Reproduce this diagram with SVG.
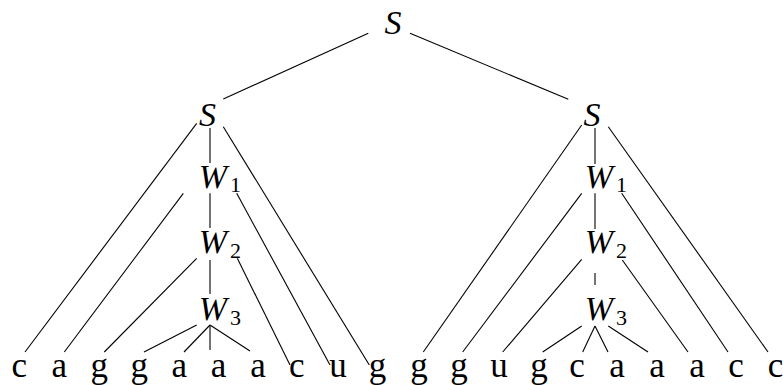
<svg xmlns="http://www.w3.org/2000/svg" width="783" height="385" viewBox="0 0 783 385">
<style>
  .t { font-family: "Liberation Serif", "DejaVu Serif", serif; font-size: 35px; fill: #000; }
  .nt { font-family: "Liberation Serif", "DejaVu Serif", serif; font-size: 34px; font-style: italic; fill: #000; }
  .sub { font-family: "Liberation Serif", "DejaVu Serif", serif; font-size: 22px; font-style: normal; fill: #000; }
  .e { stroke: #000; stroke-width: 1.1; fill: none; stroke-linecap: butt; }
</style>
<rect width="783" height="385" fill="#fff"/>
<g id="connectors" class="e">
  <line x1="368.3" y1="33.3" x2="223.3" y2="99"/>
  <line x1="410" y1="33.3" x2="568.3" y2="99.3"/>
  <line x1="196.7" y1="123.3" x2="25" y2="352"/>
  <line x1="210" y1="128" x2="210" y2="163"/>
  <line x1="223.3" y1="126.7" x2="369.3" y2="365"/>
  <line x1="183.3" y1="193.3" x2="64.3" y2="352"/>
  <line x1="210" y1="193.3" x2="210" y2="228"/>
  <line x1="236.7" y1="193.3" x2="330" y2="365"/>
  <line x1="196.7" y1="258.3" x2="104.3" y2="352"/>
  <line x1="210" y1="260" x2="210" y2="294"/>
  <line x1="237.3" y1="258.3" x2="290" y2="365"/>
  <line x1="196.7" y1="325" x2="144" y2="352"/>
  <line x1="210" y1="325" x2="184" y2="352"/>
  <line x1="210" y1="325" x2="210" y2="350"/>
  <line x1="210" y1="325" x2="250" y2="351"/>
  <line x1="581.7" y1="125" x2="423.3" y2="352"/>
  <line x1="595" y1="128" x2="595" y2="164"/>
  <line x1="608.3" y1="126.7" x2="768" y2="352"/>
  <line x1="581.7" y1="193.3" x2="462.7" y2="352"/>
  <line x1="595" y1="193.3" x2="595" y2="229"/>
  <line x1="621.7" y1="193.3" x2="728" y2="352"/>
  <line x1="581.7" y1="259.3" x2="502.7" y2="352"/>
  <line x1="595" y1="273" x2="595" y2="285"/>
  <line x1="622.3" y1="260" x2="688" y2="352"/>
  <line x1="581.7" y1="326" x2="542.7" y2="352"/>
  <line x1="595" y1="326" x2="582.7" y2="352"/>
  <line x1="595" y1="326" x2="608" y2="352"/>
  <line x1="608.3" y1="326" x2="648" y2="352"/>
</g>
<g id="S-root"><text class="nt" x="393" y="34" text-anchor="middle">S</text></g>
<g id="S-left"><text class="nt" x="207.5" y="126" text-anchor="middle">S</text></g>
<g id="S-right"><text class="nt" x="592" y="126" text-anchor="middle">S</text></g>
<g id="W1-left"><text class="nt" x="213" y="188" text-anchor="middle">W</text><text class="sub" x="230" y="192">1</text></g>
<g id="W2-left"><text class="nt" x="213" y="253" text-anchor="middle">W</text><text class="sub" x="230" y="258">2</text></g>
<g id="W3-left"><text class="nt" x="213" y="320" text-anchor="middle">W</text><text class="sub" x="230" y="325">3</text></g>
<g id="W1-right"><text class="nt" x="599" y="188" text-anchor="middle">W</text><text class="sub" x="616" y="192">1</text></g>
<g id="W2-right"><text class="nt" x="599" y="253" text-anchor="middle">W</text><text class="sub" x="616" y="258">2</text></g>
<g id="W3-right"><text class="nt" x="599" y="320" text-anchor="middle">W</text><text class="sub" x="616" y="325">3</text></g>
<g id="terminals" class="t" text-anchor="middle">
  <text x="19.3" y="377">c</text>
  <text x="59.2" y="377">a</text>
  <text x="99.2" y="377">g</text>
  <text x="139.2" y="377">g</text>
  <text x="179.2" y="377">a</text>
  <text x="218.5" y="377">a</text>
  <text x="258" y="377">a</text>
  <text x="296.7" y="377">c</text>
  <text x="338" y="377">u</text>
  <text x="377.5" y="377">g</text>
  <text x="419" y="377">g</text>
  <text x="459" y="377">g</text>
  <text x="499" y="377">u</text>
  <text x="539" y="377">g</text>
  <text x="577" y="377">c</text>
  <text x="617" y="377">a</text>
  <text x="657" y="377">a</text>
  <text x="697" y="377">a</text>
  <text x="736" y="377">c</text>
  <text x="775.5" y="377">c</text>
</g>
</svg>
